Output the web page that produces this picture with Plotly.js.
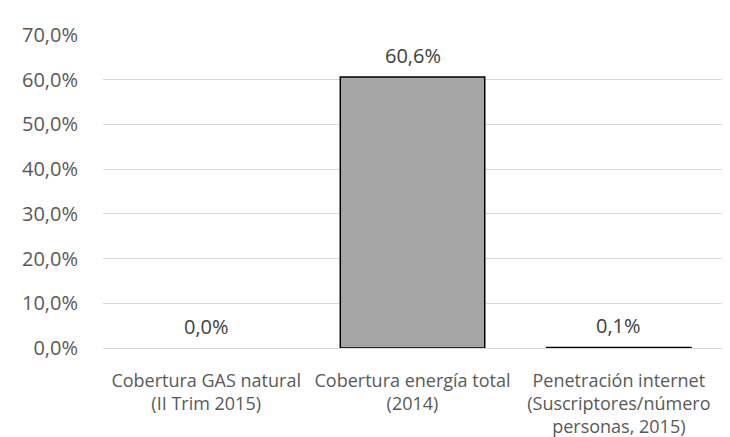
<!DOCTYPE html>
<html>
<head>
<meta charset="utf-8">
<script src="https://cdn.plot.ly/plotly-3.0.1.min.js"></script>
<style>html,body{margin:0;padding:0;background:#fff;}#chart{width:730px;height:437px;}</style>
</head>
<body>
<div id="chart"></div>
<script>
const categories = [
  "Cobertura GAS natural<br>(II Trim 2015)",
  "Cobertura energía total<br>(2014)",
  "Penetración internet<br>(Suscriptores/número<br>personas, 2015)"
];
const values = [0.000, 0.606, 0.001];
const valueLabels = ["0,0%", "60,6%", "0,1%"];
const yTicks = [0, 0.1, 0.2, 0.3, 0.4, 0.5, 0.6, 0.7];

const trace = {
  type: 'bar',
  x: categories,
  y: values,
  width: 0.7,
  marker: {color: '#a6a6a6', line: {color: '#000000', width: values.map(v => v > 0 ? 1.5 : 0)}},
  cliponaxis: false,
  hoverinfo: 'none'
};

const annotations = categories.map((c, i) => ({
  x: c, y: values[i], xref: 'x', yref: 'y',
  text: valueLabels[i], showarrow: false,
  yanchor: 'middle', yshift: 22,
  font: {family: 'Open Sans, sans-serif', size: 20, color: '#404040'}
}));

const layout = {
  width: 730, height: 437,
  margin: {l: 103, r: 8, t: 35, b: 89},
  paper_bgcolor: '#ffffff', plot_bgcolor: '#ffffff',
  separators: ',.',
  showlegend: false,
  font: {family: 'Open Sans, sans-serif', color: '#595959'},
  annotations: annotations,
  xaxis: {
    showgrid: false, showline: true, linecolor: '#d9d9d9', linewidth: 1,
    ticks: '', tickfont: {size: 18, color: '#595959'},
    ticklabelstandoff: 16
  },
  yaxis: {
    range: [0, 0.7], tickvals: yTicks, tickformat: '.1%',
    showgrid: true, gridcolor: '#d9d9d9', gridwidth: 1,
    zeroline: false, showline: false, ticks: '',
    tickfont: {size: 20, color: '#595959'},
    ticklabelstandoff: 24
  },
  bargap: 0.3
};

Plotly.newPlot('chart', [trace], layout, {displayModeBar: false, staticPlot: true});
</script>
</body>
</html>
